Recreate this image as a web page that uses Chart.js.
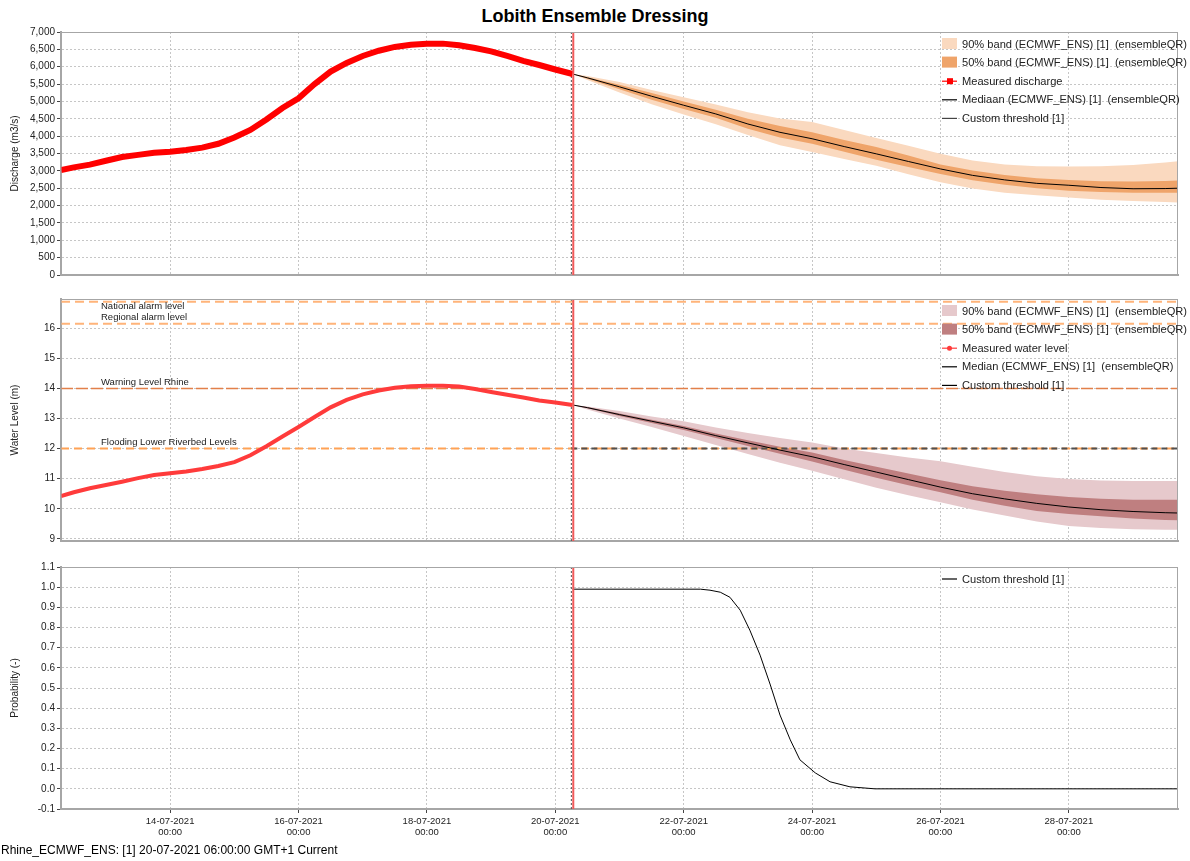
<!DOCTYPE html>
<html>
<head>
<meta charset="utf-8">
<script src="https://cdn.jsdelivr.net/npm/chart.js@4"></script>
<style>
  body { margin: 0; background: #fff; font-family: "Liberation Sans", Arial, sans-serif; }
  #title { position: absolute; left: 0; top: 6px; width: 1190px; text-align: center; font-weight: bold; font-size: 18px; color: #000; }
  .panel { position: absolute; left: 0; width: 1190px; }
  #footer { position: absolute; left: 1px; top: 843px; font-size: 12px; color: #000; }
</style>
</head>
<body>
<div id="title">Lobith Ensemble Dressing</div>
<div class="panel" style="top:24px;height:259px"><canvas id="qChart" width="1190" height="259"></canvas></div>
<div class="panel" style="top:291px;height:258px"><canvas id="hChart" width="1190" height="258"></canvas></div>
<div class="panel" style="top:559px;height:292px"><canvas id="pChart" width="1190" height="292"></canvas></div>
<div id="footer">Rhine_ECMWF_ENS: [1] 20-07-2021 06:00:00 GMT+1 Current</div>
<script>
// time axis in days since 14-07-2021 00:00
const xMin = -1.70, xMax = 15.70;
const tickDays = [0, 2, 4, 6, 8, 10, 12, 14];
const tickDates = ['14-07-2021', '16-07-2021', '18-07-2021', '20-07-2021', '22-07-2021', '24-07-2021', '26-07-2021', '28-07-2021'];
const forecastT0 = 6.25;   // 20-07-2021 06:00
const systemTime = 6.28;

// measured series
const obsT = [-1.70, -1.5, -1.25, -1.0, -0.75, -0.5, -0.25, 0, 0.25, 0.5, 0.75, 1.0, 1.25, 1.5, 1.75, 2.0, 2.25, 2.5, 2.75, 3.0, 3.25, 3.5, 3.75, 4.0, 4.25, 4.5, 4.75, 5.0, 5.25, 5.5, 5.75, 6.0, 6.27];
const obsQ = [3020, 3100, 3180, 3290, 3400, 3460, 3520, 3550, 3600, 3670, 3780, 3960, 4180, 4480, 4810, 5090, 5500, 5860, 6110, 6310, 6460, 6570, 6630, 6660, 6665, 6620, 6540, 6440, 6310, 6170, 6050, 5920, 5790];
const obsH = [10.42, 10.55, 10.68, 10.79, 10.90, 11.02, 11.12, 11.18, 11.24, 11.32, 11.42, 11.55, 11.78, 12.08, 12.40, 12.72, 13.05, 13.37, 13.62, 13.80, 13.93, 14.02, 14.07, 14.09, 14.09, 14.06, 13.98, 13.88, 13.79, 13.70, 13.60, 13.53, 13.45];

// forecast series (ensembleQR)
const fcT = [6.27, 6.5, 7.0, 7.5, 8.0, 8.5, 9.0, 9.5, 10.0, 10.5, 11.0, 11.5, 12.0, 12.5, 13.0, 13.5, 14.0, 14.5, 15.0, 15.5, 15.7];
const qMed = [5790, 5680, 5420, 5150, 4890, 4640, 4350, 4110, 3925, 3700, 3490, 3270, 3055, 2870, 2740, 2640, 2585, 2520, 2485, 2490, 2500];
const q95 = [5790, 5730, 5560, 5330, 5120, 4910, 4690, 4510, 4410, 4180, 3950, 3720, 3490, 3300, 3180, 3130, 3125, 3130, 3170, 3240, 3280];
const q75 = [5790, 5700, 5480, 5240, 5000, 4760, 4500, 4290, 4110, 3890, 3690, 3440, 3180, 3010, 2880, 2790, 2740, 2700, 2690, 2710, 2720];
const q25 = [5790, 5650, 5350, 5050, 4780, 4530, 4210, 3960, 3780, 3550, 3320, 3110, 2910, 2730, 2600, 2500, 2430, 2390, 2370, 2370, 2370];
const q05 = [5790, 5620, 5260, 4920, 4620, 4340, 4030, 3740, 3540, 3340, 3150, 2900, 2670, 2490, 2370, 2300, 2235, 2170, 2130, 2100, 2090];

const hMed = [13.45, 13.36, 13.13, 12.91, 12.69, 12.43, 12.19, 11.95, 11.73, 11.47, 11.22, 10.97, 10.72, 10.50, 10.33, 10.18, 10.06, 9.97, 9.91, 9.87, 9.86];
const h95 = [13.45, 13.40, 13.25, 13.07, 12.91, 12.70, 12.52, 12.35, 12.20, 12.00, 11.85, 11.70, 11.58, 11.40, 11.22, 11.08, 10.99, 10.94, 10.92, 10.92, 10.92];
const h75 = [13.45, 13.38, 13.17, 12.96, 12.75, 12.50, 12.28, 12.06, 11.87, 11.62, 11.40, 11.17, 10.95, 10.75, 10.60, 10.48, 10.39, 10.33, 10.30, 10.30, 10.30];
const h25 = [13.45, 13.34, 13.08, 12.85, 12.62, 12.35, 12.09, 11.83, 11.57, 11.30, 11.03, 10.78, 10.55, 10.30, 10.10, 9.93, 9.83, 9.75, 9.68, 9.63, 9.62];
const h05 = [13.45, 13.30, 13.00, 12.72, 12.42, 12.12, 11.82, 11.53, 11.26, 10.98, 10.70, 10.45, 10.22, 9.98, 9.78, 9.58, 9.43, 9.36, 9.32, 9.30, 9.30];

// warning levels at Lobith (m)
const levelNames = ['National alarm level', 'Regional alarm level', 'Warning Level Rhine', 'Flooding Lower Riverbed Levels'];
const levelValues = [16.88, 16.15, 14.0, 12.0];
const customThreshold = 12.0;

// probability of exceeding the custom threshold
const probT = [6.27, 8.26, 8.41, 8.57, 8.72, 8.88, 9.03, 9.19, 9.35, 9.50, 9.66, 9.81, 10.05, 10.28, 10.59, 10.98, 15.7];
const probV = [0.99, 0.99, 0.985, 0.975, 0.95, 0.886, 0.787, 0.663, 0.515, 0.366, 0.243, 0.144, 0.079, 0.035, 0.01, 0, 0];

const pts = (xs, ys) => xs.map((x, i) => ({ x: x, y: ys[i] }));
const FONT = '"Liberation Sans", Arial, sans-serif';
const NONE = 'rgba(0,0,0,0)';

function xAxis(showLabels) {
  return {
    type: 'linear', min: xMin, max: xMax,
    afterBuildTicks: s => { s.ticks = tickDays.map(v => ({ value: v })); },
    afterFit: s => { s.height = showLabels ? 42 : 0; },
    grid: { color: '#c6c6c6', lineWidth: 1, drawTicks: showLabels, tickLength: 4, tickColor: '#444' },
    border: { dash: [2, 2], color: '#a6a6a6', width: 2 },
    ticks: {
      display: showLabels, color: '#222', padding: 3, maxRotation: 0, autoSkip: false,
      font: { family: FONT, size: 9.5, lineHeight: 1.15 },
      callback: (v, i) => [tickDates[i], '00:00']
    }
  };
}

function yAxis(title, min, max, step, fmt) {
  return {
    min: min, max: max,
    afterFit: s => { s.width = 61; },
    grid: { color: '#c6c6c6', lineWidth: 1, tickLength: 4, tickColor: '#444' },
    border: { dash: [2, 2], color: '#a6a6a6', width: 2 },
    ticks: { stepSize: step, includeBounds: false, color: '#222', padding: 2, font: { family: FONT, size: 10 }, callback: fmt },
    title: { display: true, text: title, color: '#222', font: { family: FONT, size: 10 }, padding: { top: 9, bottom: 0 } }
  };
}

// frame, forecast markers, level labels and in-plot legend
const decor = {
  id: 'decor',
  beforeDatasetsDraw(chart) {
    const { ctx, chartArea: a, scales } = chart;
    const xt = scales.x.getPixelForValue(forecastT0);
    ctx.save();
    ctx.strokeStyle = '#555';
    ctx.lineWidth = 1;
    ctx.setLineDash([2, 2]);
    ctx.beginPath(); ctx.moveTo(xt, a.top); ctx.lineTo(xt, a.bottom); ctx.stroke();
    ctx.restore();
  },
  afterDatasetsDraw(chart, args, opts) {
    const { ctx, chartArea: a, scales } = chart;
    const xs = scales.x.getPixelForValue(systemTime);
    ctx.save();
    ctx.strokeStyle = '#f05a5a';
    ctx.lineWidth = 2;
    ctx.beginPath(); ctx.moveTo(xs, a.top); ctx.lineTo(xs, a.bottom); ctx.stroke();
    ctx.strokeStyle = '#a6a6a6';
    ctx.lineWidth = 1;
    ctx.strokeRect(a.left, a.top + 0.5, a.right - a.left - 0.5, a.bottom - a.top);

    // level labels
    ctx.fillStyle = '#222';
    ctx.font = '9.5px ' + FONT;
    ctx.textBaseline = 'middle';
    (opts.labels || []).forEach(l => {
      const y = scales.y.getPixelForValue(l.value);
      ctx.fillText(l.text, a.left + 40, l.below ? y + 5 : y - 6);
    });

    // legend
    ctx.font = '11.1px ' + FONT;
    (opts.legend || []).forEach((it, i) => {
      const y = a.top + 11.5 + i * 18.6;
      const x = a.right - 236;
      if (it.box) {
        ctx.fillStyle = it.box;
        ctx.fillRect(x, y - 5.5, 15, 11);
      } else {
        ctx.strokeStyle = it.line;
        ctx.lineWidth = 1.2;
        ctx.beginPath(); ctx.moveTo(x, y + 0.5); ctx.lineTo(x + 15, y + 0.5); ctx.stroke();
        if (it.marker === 'rect') { ctx.fillStyle = it.line; ctx.fillRect(x + 5, y - 2.5, 6, 6); }
        if (it.marker === 'dot') { ctx.fillStyle = it.line; ctx.beginPath(); ctx.arc(x + 7.5, y + 0.5, 2.5, 0, Math.PI * 2); ctx.fill(); }
      }
      ctx.fillStyle = '#222';
      ctx.fillText(it.text, x + 20, y + 1);
    });
    ctx.restore();
  }
};

function baseOptions(xShow, y, extra) {
  return {
    responsive: false, animation: false,
    layout: { padding: { left: 0, right: 12, top: 6, bottom: xShow ? 0 : 4 } },
    elements: { point: { radius: 0 }, line: { tension: 0 } },
    scales: { x: xAxis(xShow), y: y },
    plugins: { legend: { display: false }, tooltip: { enabled: false }, decor: extra }
  };
}

function band(data, color, fill, order) {
  return { data: data, borderColor: NONE, borderWidth: 0, backgroundColor: color, fill: fill, order: order };
}

new Chart(document.getElementById('qChart'), {
  type: 'line',
  data: {
    datasets: [
      { label: 'Measured discharge', data: pts(obsT, obsQ), borderColor: '#ff0000', borderWidth: 6, order: 0 },
      { label: 'Mediaan (ECMWF_ENS) [1]  (ensembleQR)', data: pts(fcT, qMed), borderColor: '#000', borderWidth: 1, order: 1 },
      band(pts(fcT, q75), '#efa46a', '+1', 2),
      band(pts(fcT, q25), NONE, false, 2),
      band(pts(fcT, q95), '#fad9bf', '+1', 3),
      band(pts(fcT, q05), NONE, false, 3)
    ]
  },
  options: baseOptions(false, yAxis('Discharge (m3/s)', 0, 7000, 500, v => v.toLocaleString('en-US')), {
    legend: [
      { text: '90% band (ECMWF_ENS) [1]  (ensembleQR)', box: '#fad9bf' },
      { text: '50% band (ECMWF_ENS) [1]  (ensembleQR)', box: '#efa46a' },
      { text: 'Measured discharge', line: '#ff0000', marker: 'rect' },
      { text: 'Mediaan (ECMWF_ENS) [1]  (ensembleQR)', line: '#000' },
      { text: 'Custom threshold [1]', line: '#444' }
    ]
  }),
  plugins: [decor]
});

const levelStyles = [
  { color: '#ffb47a', dash: [9, 5], width: 2 },
  { color: '#ffb47a', dash: [9, 5], width: 2 },
  { color: '#e2804a', dash: [12, 3], width: 1.5 },
  { color: '#ffa255', dash: [8, 5], width: 2 }
];

new Chart(document.getElementById('hChart'), {
  type: 'line',
  data: {
    datasets: [
      { label: 'Measured water level', data: pts(obsT, obsH), borderColor: '#ff3b3b', borderWidth: 4, order: 0 },
      { label: 'Median (ECMWF_ENS) [1]  (ensembleQR)', data: pts(fcT, hMed), borderColor: '#000', borderWidth: 1, order: 1 },
      { label: 'Custom threshold [1]', data: pts([forecastT0, xMax], [customThreshold, customThreshold]), borderColor: '#505050', borderWidth: 2, borderDash: [6, 4], order: 2 }
    ].concat(levelValues.map((v, i) => ({
      label: levelNames[i], data: pts([xMin, xMax], [v, v]),
      borderColor: levelStyles[i].color, borderWidth: levelStyles[i].width, borderDash: levelStyles[i].dash, order: 3
    }))).concat([
      band(pts(fcT, h75), '#bf7f80', '+1', 4),
      band(pts(fcT, h25), NONE, false, 4),
      band(pts(fcT, h95), '#e6c9cc', '+1', 5),
      band(pts(fcT, h05), NONE, false, 5)
    ])
  },
  options: baseOptions(false, yAxis('Water Level (m)', 8.93, 16.97, 1, v => String(v)), {
    labels: levelNames.map((n, i) => ({ text: n, value: levelValues[i], below: i === 0 })),
    legend: [
      { text: '90% band (ECMWF_ENS) [1]  (ensembleQR)', box: '#e6c9cc' },
      { text: '50% band (ECMWF_ENS) [1]  (ensembleQR)', box: '#bf7f80' },
      { text: 'Measured water level', line: '#ff3b3b', marker: 'dot' },
      { text: 'Median (ECMWF_ENS) [1]  (ensembleQR)', line: '#000' },
      { text: 'Custom threshold [1]', line: '#000' }
    ]
  }),
  plugins: [decor]
});

new Chart(document.getElementById('pChart'), {
  type: 'line',
  data: {
    datasets: [
      { label: 'Custom threshold [1]', data: pts(probT, probV), borderColor: '#000', borderWidth: 1 }
    ]
  },
  options: baseOptions(true, yAxis('Probability (-)', -0.1, 1.1, 0.1, v => v.toFixed(1)), {
    legend: [{ text: 'Custom threshold [1]', line: '#000' }]
  }),
  plugins: [decor]
});
</script>
</body>
</html>
